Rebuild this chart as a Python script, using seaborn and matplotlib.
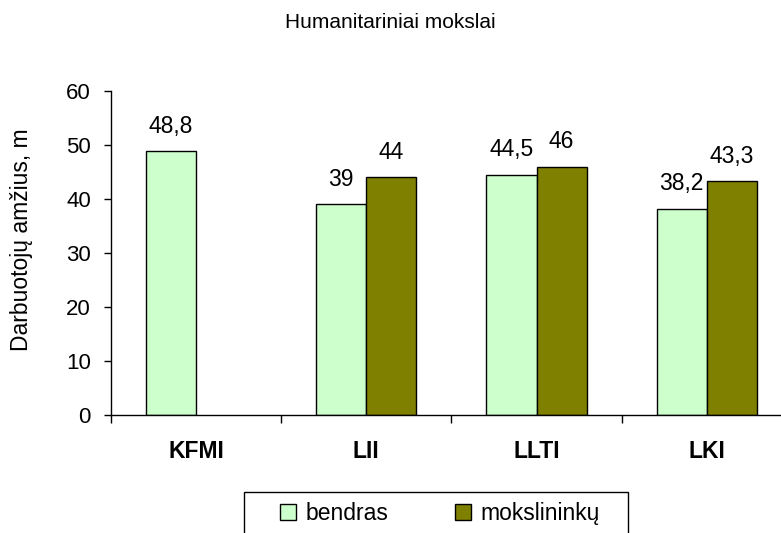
import numpy as np
import pandas as pd
import matplotlib.pyplot as plt
from matplotlib.patches import Rectangle
import seaborn as sns

OUTPUT_PATH = "out.png"

categories = ["KFMI", "LII", "LLTI", "LKI"]
bendras = [48.8, 39.0, 44.5, 38.2]
mokslininku = [np.nan, 44.0, 46.0, 43.3]
series_names = ["bendras", "mokslininkų"]
colors = ["#CCFFCC", "#808000"]


def fmt(v):
    return f"{v:g}".replace(".", ",")


def main():
    sns.set_style("white")
    plt.rcParams["font.family"] = ["Liberation Sans", "DejaVu Sans"]
    for k in ["text.color", "axes.labelcolor", "xtick.color", "ytick.color"]:
        plt.rcParams[k] = "black"

    df = pd.DataFrame({
        "institutas": categories * 2,
        "reiksme": bendras + mokslininku,
        "serija": [series_names[0]] * 4 + [series_names[1]] * 4,
    }).dropna()

    fig = plt.figure(figsize=(7.81, 5.33), dpi=100)
    ax = fig.add_axes([0.142, 0.2214, 0.872, 0.608])

    sns.barplot(data=df, x="institutas", y="reiksme", hue="serija",
                order=categories, hue_order=series_names, palette=colors,
                width=0.588, edgecolor="black", linewidth=1, saturation=1,
                ax=ax)

    for cont, name in zip(ax.containers, series_names):
        vals = df.loc[df["serija"] == name, "reiksme"].tolist()
        ax.bar_label(cont, labels=[fmt(v) for v in vals], padding=9.5, fontsize=16.5)

    ax.set_ylim(0, 60)
    ax.set_xlim(-0.5, 3.5)
    ax.set_yticks(range(0, 61, 10))
    ax.set_xticks(np.arange(-0.5, 4, 1), minor=True)
    ax.tick_params(axis="x", which="major", length=0, pad=18, labelsize=16.5)
    ax.tick_params(axis="x", which="minor", length=6, width=1, color="black",
                   direction="out", bottom=True)
    ax.tick_params(axis="y", length=5, width=1, color="black", direction="out",
                   left=True, pad=9.5, labelsize=16)
    for lbl in ax.get_xticklabels():
        lbl.set_fontweight("bold")

    for s in ["top", "right"]:
        ax.spines[s].set_visible(False)
    for s in ["left", "bottom"]:
        ax.spines[s].set_color("black")
        ax.spines[s].set_linewidth(1)

    ax.set_xlabel("")
    ax.set_ylabel("Darbuotojų amžius, m", fontsize=16.5)
    ax.yaxis.set_label_coords(-0.1145, 0.54)
    fig.text(0.5, 1 - 28 / 533, "Humanitariniai mokslai", ha="center",
             va="baseline", fontsize=15)

    handles, labels = ax.get_legend_handles_labels()
    leg = ax.legend(handles, labels, loc="upper center", ncol=2,
                    bbox_to_anchor=(0.5634, 0.077), bbox_transform=fig.transFigure,
                    borderaxespad=0, frameon=False, fontsize=16.5,
                    handlelength=0.7, handleheight=0.7, columnspacing=2.9,
                    borderpad=0.45, handletextpad=0.4)

    # legend frame: wider on the sides than the legend's own uniform padding
    fig.canvas.draw()
    bb = leg.get_window_extent().transformed(fig.transFigure.inverted())
    px = 1 / fig.bbox.width
    frame = Rectangle((bb.x0 - 26 * px, bb.y0 - 0.05), bb.width + 44 * px,
                      bb.height + 0.05, transform=fig.transFigure,
                      facecolor="white", edgecolor="black", linewidth=1,
                      clip_on=False, zorder=leg.get_zorder() - 0.5)
    ax.add_artist(frame)

    fig.savefig(OUTPUT_PATH, dpi=100)
    plt.close(fig)


if __name__ == "__main__":
    main()
